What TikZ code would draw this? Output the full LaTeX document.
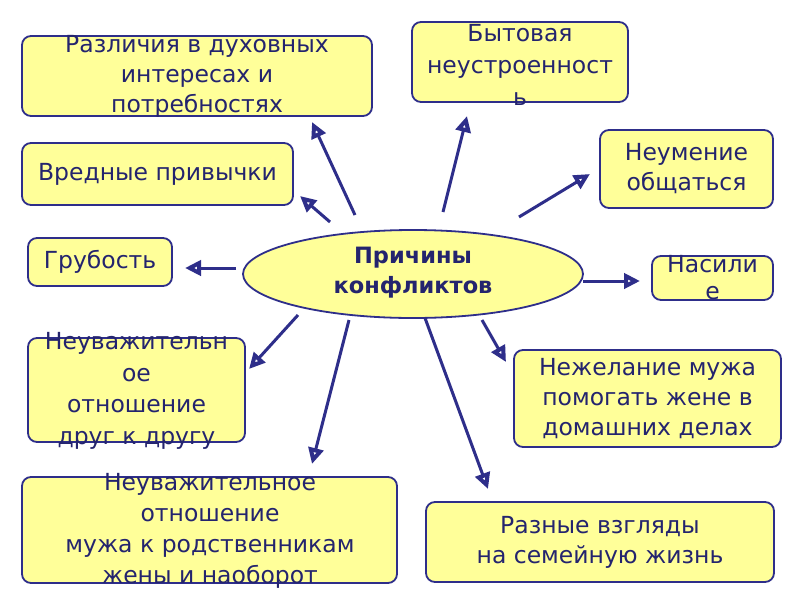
\documentclass[tikz,border=0pt]{standalone}
\usepackage{fontspec}
\setmainfont{DejaVu Sans}
\usetikzlibrary{arrows.meta,shapes.geometric}
\definecolor{navy}{HTML}{2E2E8A}
\definecolor{txtc}{HTML}{24246E}
\definecolor{boxfill}{HTML}{FFFF99}
\tikzset{
  box/.style={draw=navy, line width=1.8pt, fill=boxfill, rounded corners=9pt, inner sep=0pt},
  txt/.style={text=txtc, align=center, font=\fontsize{23.5}{30}\selectfont, inner sep=0pt},
  conn/.style={draw=navy, line width=3pt, -{Triangle[open, length=16pt, width=15pt, line width=4.6pt]}}
}
\begin{document}
\begin{tikzpicture}[x=1pt,y=-1pt]
\useasboundingbox (0,0) rectangle (800,600);
\fill[white] (0,0) rectangle (800,600);
% boxes
\node[box, minimum width=350pt, minimum height=80pt] (b1) at (197,76) {};
\node[txt] (t1) at (197,76) {Различия в духовных\\интересах и\\потребностях};
\node[box, minimum width=271pt, minimum height=62pt] (b2) at (157.5,174) {};
\node[txt] (t2) at (b2) {Вредные привычки};
\node[box, minimum width=144pt, minimum height=48pt] (b3) at (100,262) {};
\node[txt] (t3) at (b3) {Грубость};
\node[box, minimum width=217pt, minimum height=104pt] (b4) at (136.5,390) {};
\node[txt, font=\fontsize{23.5}{31.5}\selectfont] (t4) at (136.5,391) {Неуважительн\\ое\\отношение\\друг к другу};
\node[box, minimum width=375pt, minimum height=106pt] (b5) at (209.5,530) {};
\node[txt, font=\fontsize{23.5}{31}\selectfont] (t5) at (210,531) {Неуважительное\\отношение\\мужа к родственникам\\жены и наоборот};
\node[box, minimum width=216pt, minimum height=80pt] (b6) at (520,62) {};
\node[txt, font=\fontsize{23.5}{32}\selectfont] (t6) at (520,65) {Бытовая\\неустроенност\\ь};
\node[box, minimum width=173pt, minimum height=78pt] (b7) at (686.5,169) {};
\node[txt] (t7) at (b7) {Неумение\\общаться};
\node[box, minimum width=121pt, minimum height=44pt] (b8) at (712.5,278) {};
\node[txt, font=\fontsize{23.5}{27}\selectfont] (t8) at (712.5,278) {Насили\\е};
\node[box, minimum width=267pt, minimum height=97pt] (b9) at (647.5,398.5) {};
\node[txt] (t9) at (b9) {Нежелание мужа\\помогать жене в\\домашних делах};
\node[box, minimum width=348pt, minimum height=80pt] (b10) at (600,542) {};
\node[txt] (t10) at (b10) {Разные взгляды\\на семейную жизнь};
% centre
\node[ellipse, draw=navy, line width=1.8pt, fill=boxfill, minimum width=340pt, minimum height=88pt, inner sep=0pt] (e) at (413,274) {};
\node[txt, font=\bfseries\fontsize{22.5}{30}\selectfont] (te) at (413,273) {Причины\\конфликтов};
% connector ends
\coordinate (s1) at (355,215); \coordinate (e1) at (312,122);
\coordinate (s2) at (330,222); \coordinate (e2) at (300,196);
\coordinate (s3) at (236,268); \coordinate (e3) at (185,268);
\coordinate (s4) at (443,212); \coordinate (e4) at (467,116);
\coordinate (s5) at (519,217); \coordinate (e5) at (590,174);
\coordinate (s6) at (583,281); \coordinate (e6) at (640,281);
\coordinate (s7) at (482,320); \coordinate (e7) at (506,362);
\coordinate (s8) at (425,318); \coordinate (e8) at (488,489);
\coordinate (s9) at (298,315); \coordinate (e9) at (249,369);
\coordinate (s10) at (349,320); \coordinate (e10) at (312,464);
\foreach \i in {1,...,10} {\draw[conn] (s\i) -- (e\i);}
\end{tikzpicture}
\end{document}
